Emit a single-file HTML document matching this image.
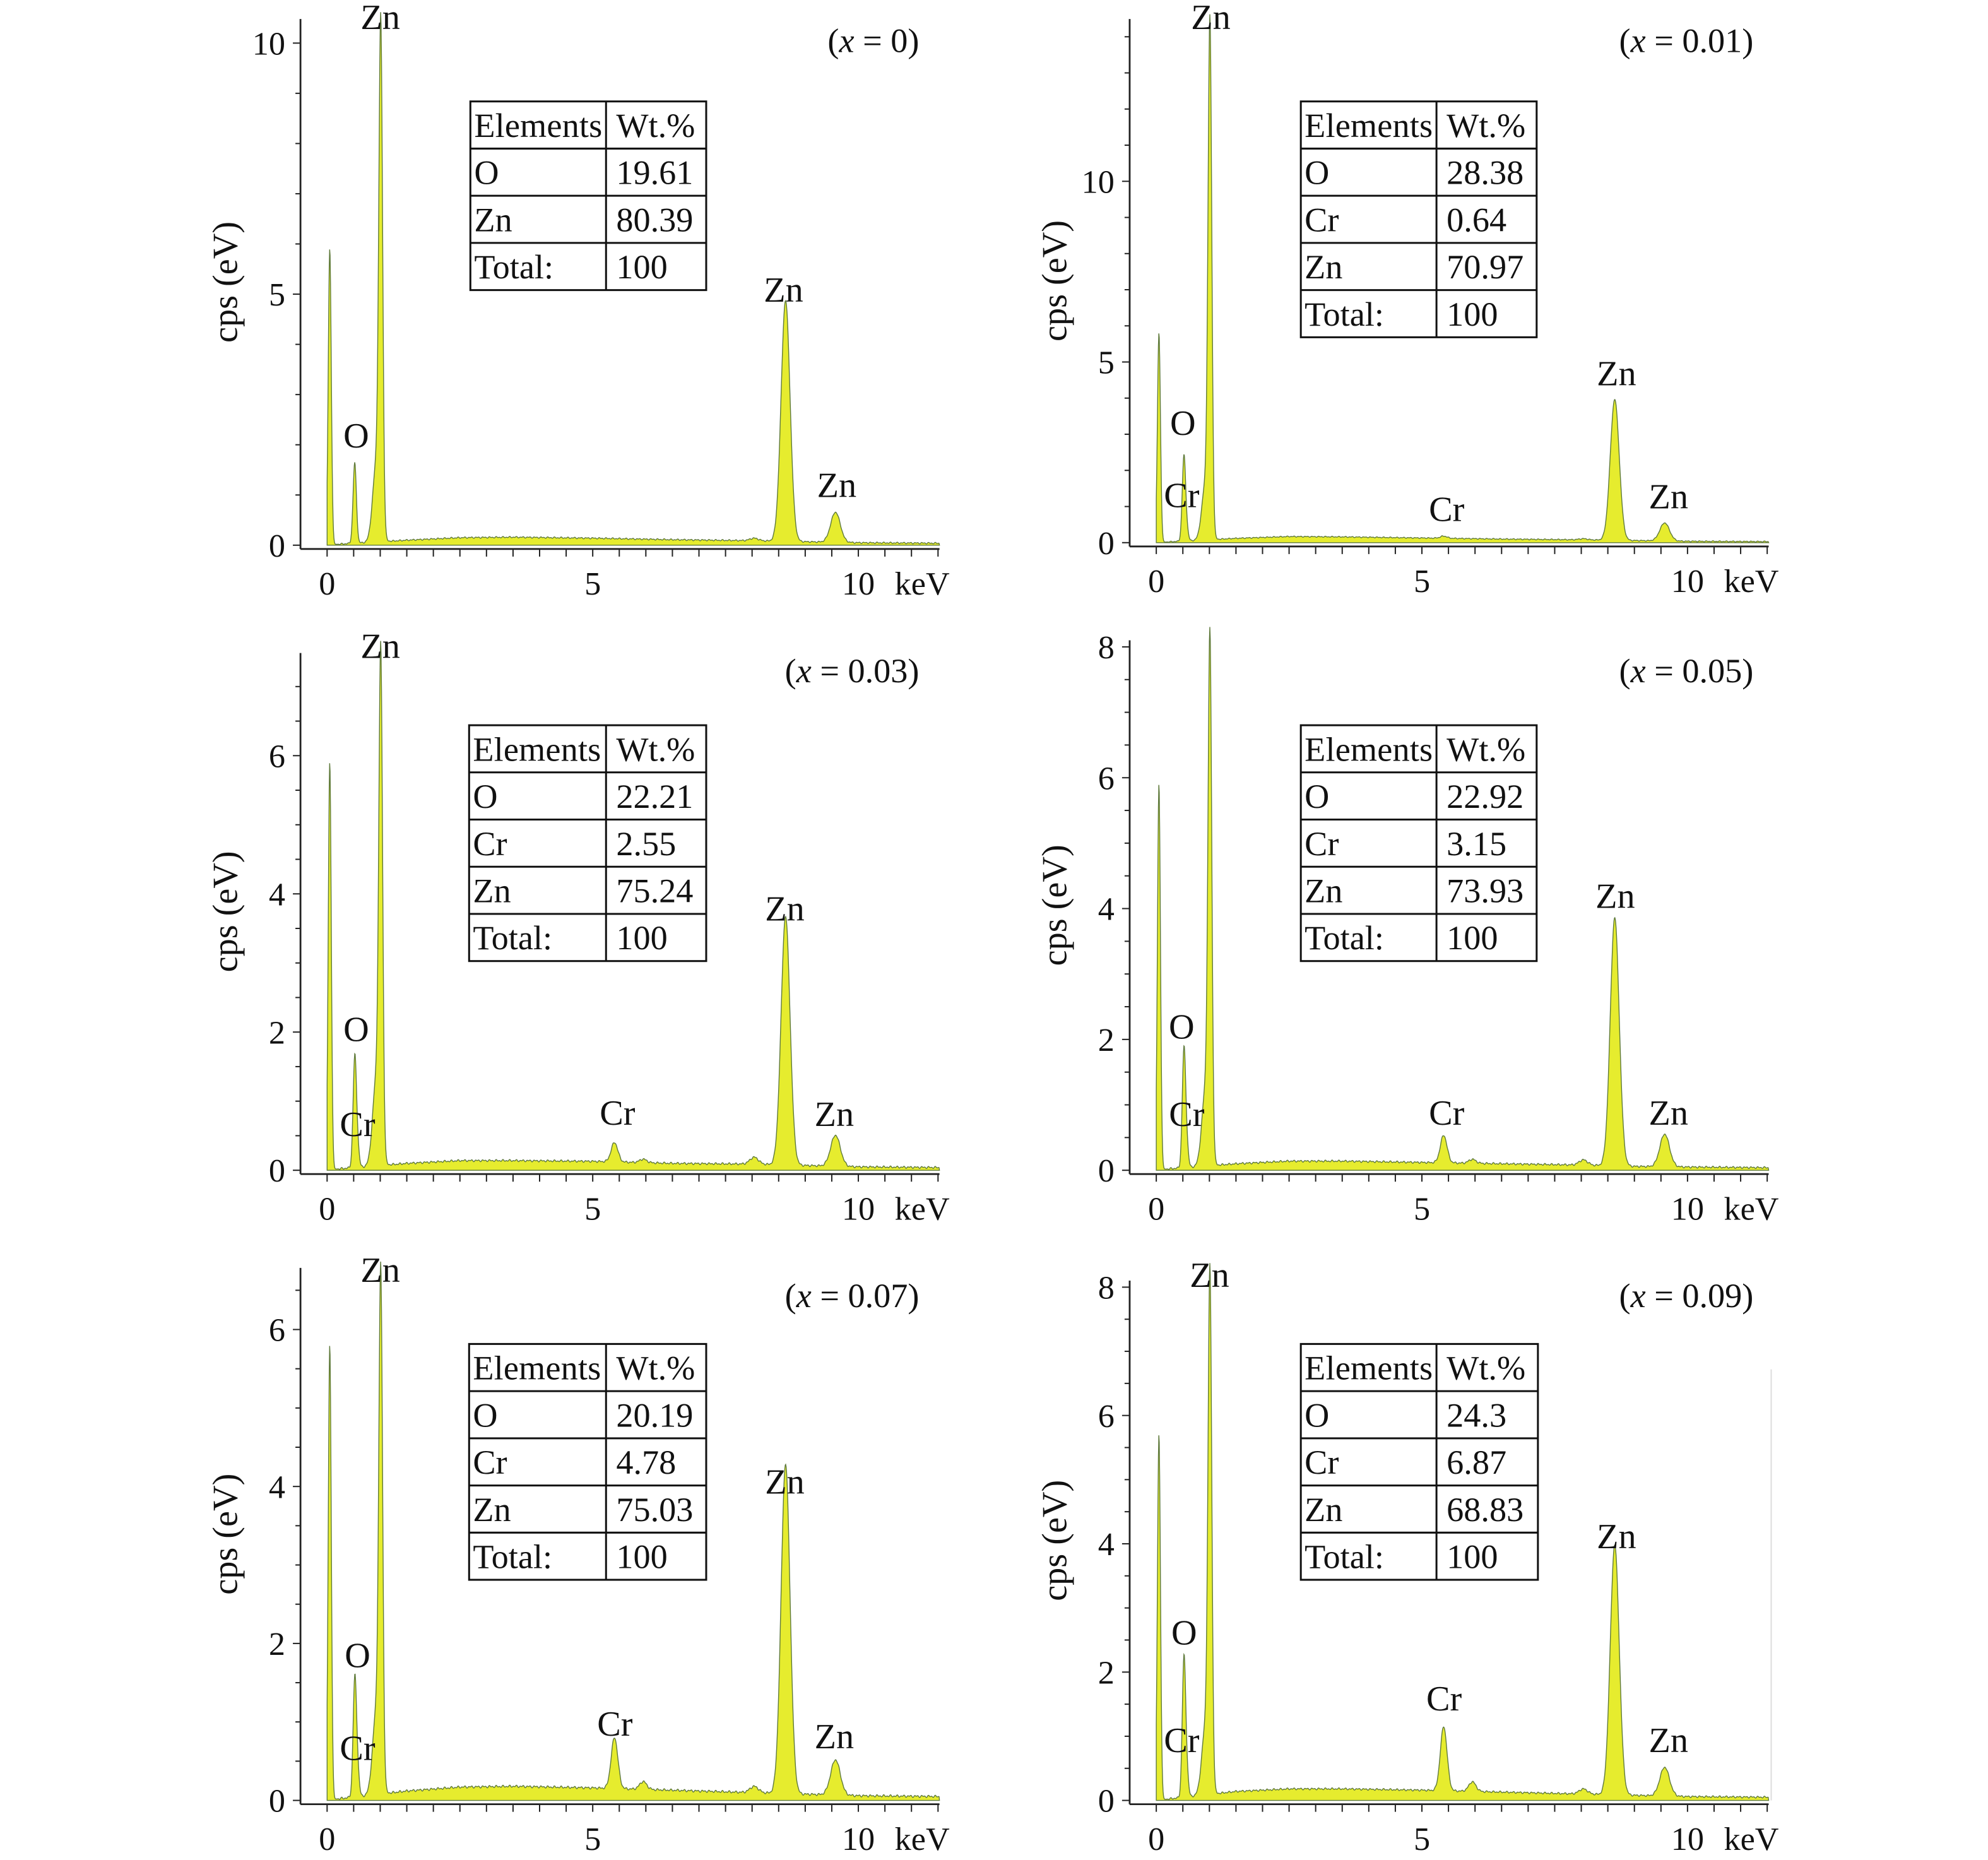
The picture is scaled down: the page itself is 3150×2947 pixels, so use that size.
<!DOCTYPE html>
<html><head><meta charset="utf-8"><style>
html,body{margin:0;padding:0;background:#fff}
svg{display:block}
text{font-family:"Liberation Serif",serif;fill:#111}
</style></head><body>
<svg id="fig" width="3150" height="2947" viewBox="0 0 1568 1467" preserveAspectRatio="none" xmlns="http://www.w3.org/2000/svg"></svg>
<script>
// shared peak energies (keV)
const peakE = [0.05, 0.52, 0.57, 0.93, 1.01, 5.41, 5.95, 8.04, 8.63, 9.57];
// peak heights per sample (cps)
const hX0   = [5.9, 1.6, 0.0, 1.6, 9.7, 0.0, 0.0, 0.05, 4.8, 0.6];
const hX001 = [5.8, 2.3, 0.3, 1.6, 13.7, 0.06, 0.0, 0.03, 3.9, 0.5];
const hX003 = [5.9, 1.55, 0.3, 1.3, 6.9, 0.28, 0.05, 0.1, 3.6, 0.45];
const hX005 = [5.9, 1.75, 0.35, 1.2, 7.6, 0.42, 0.06, 0.08, 3.8, 0.5];
const hX007 = [5.8, 1.45, 0.35, 1.1, 6.2, 0.65, 0.1, 0.08, 4.2, 0.45];
const hX009 = [5.7, 2.1, 0.4, 1.1, 7.7, 1.0, 0.15, 0.08, 3.9, 0.45];
// background continuum
const bgE    = [0.2, 1.5, 2.5, 3.5, 5.0, 6.5, 8.0, 9.0, 10.0, 11.5];
const bgX0   = [0.02, 0.10, 0.15, 0.16, 0.14, 0.11, 0.09, 0.07, 0.05, 0.04];
const bgX001 = [0.02, 0.12, 0.17, 0.16, 0.13, 0.10, 0.08, 0.06, 0.04, 0.03];
const bgX003 = [0.02, 0.10, 0.14, 0.14, 0.13, 0.10, 0.09, 0.07, 0.05, 0.04];
const bgX005 = [0.02, 0.10, 0.14, 0.14, 0.12, 0.10, 0.08, 0.06, 0.05, 0.04];
const bgX007 = [0.02, 0.12, 0.17, 0.18, 0.16, 0.13, 0.10, 0.08, 0.06, 0.05];
const bgX009 = [0.02, 0.14, 0.18, 0.18, 0.16, 0.13, 0.10, 0.08, 0.06, 0.05];
// y tick labels
const yTicksA = [0, 5, 10];
const yTicksB = [0, 2, 4, 6];
const yTicksC = [0, 2, 4, 6, 8];
const xTicks = [0, 5, 10];
// tables
const tabX0   = [["O","19.61"],["Zn","80.39"],["Total:","100"]];
const tabX001 = [["O","28.38"],["Cr","0.64"],["Zn","70.97"],["Total:","100"]];
const tabX003 = [["O","22.21"],["Cr","2.55"],["Zn","75.24"],["Total:","100"]];
const tabX005 = [["O","22.92"],["Cr","3.15"],["Zn","73.93"],["Total:","100"]];
const tabX007 = [["O","20.19"],["Cr","4.78"],["Zn","75.03"],["Total:","100"]];
const tabX009 = [["O","24.3"],["Cr","6.87"],["Zn","68.83"],["Total:","100"]];
const sampleLabels = ["0","0.01","0.03","0.05","0.07","0.09"];

const NS = "http://www.w3.org/2000/svg";
const svg = document.getElementById('fig');
function mk(tag, attrs, parent){const e=document.createElementNS(NS,tag);for(const k in attrs)e.setAttribute(k,attrs[k]);(parent||svg).appendChild(e);return e;}

const panels = [
 {ax:237,x0:258,kpx:41.9,y0:430,u:39.6,top:15,minor:1,ticks:yTicksA,h:hX0,bg:bgX0,tab:tabX0,tx:371,ty:80,split:478,tr:557,lab:[725,32],
  pl:[["Zn",300,14],["O",281,344],["Zn",618,229],["Zn",660,383]]},
 {ax:891,x0:912,kpx:41.9,y0:428,u:28.5,top:15,minor:1,ticks:yTicksA,h:hX001,bg:bgX001,tab:tabX001,tx:1026,ty:80,split:1133,tr:1212,lab:[1383,32],
  pl:[["Zn",955,14],["O",933,334],["Cr",932,391],["Cr",1141,402],["Zn",1275,295],["Zn",1316,392]]},
 {ax:237,x0:258,kpx:41.9,y0:923,u:54.5,top:515,minor:0.5,ticks:yTicksB,h:hX003,bg:bgX003,tab:tabX003,tx:370,ty:572,split:478,tr:557,lab:[725,529],
  pl:[["Zn",300,510],["O",281,812],["Cr",282,887],["Cr",487,878],["Zn",619,717],["Zn",658,879]]},
 {ax:891,x0:912,kpx:41.9,y0:923,u:51.6,top:505,minor:0.5,ticks:yTicksC,h:hX005,bg:bgX005,tab:tabX005,tx:1026,ty:572,split:1133,tr:1212,lab:[1383,529],
  pl:[["O",932,810],["Cr",936,879],["Cr",1141,878],["Zn",1274,707],["Zn",1316,878]]},
 {ax:237,x0:258,kpx:41.9,y0:1420,u:61.9,top:1000,minor:0.5,ticks:yTicksB,h:hX007,bg:bgX007,tab:tabX007,tx:370,ty:1060,split:478,tr:557,lab:[725,1022],
  pl:[["Zn",300,1002],["O",282,1306],["Cr",282,1379],["Cr",485,1360],["Zn",619,1169],["Zn",658,1370]]},
 {ax:891,x0:912,kpx:41.9,y0:1420,u:50.6,top:1010,minor:0.5,ticks:yTicksC,h:hX009,bg:bgX009,tab:tabX009,tx:1026,ty:1060,split:1133,tr:1213,lab:[1383,1022],
  pl:[["Zn",954,1006],["O",934,1288],["Cr",932,1373],["Cr",1139,1340],["Zn",1275,1212],["Zn",1316,1373]]}
];

function interp(xs, ys, x){
  if(x<=xs[0]) return ys[0]*Math.max(0,x/xs[0]);
  for(let i=1;i<xs.length;i++){ if(x<=xs[i]){const t=(x-xs[i-1])/(xs[i]-xs[i-1]);return ys[i-1]+t*(ys[i]-ys[i-1]);} }
  return ys[ys.length-1];
}

panels.forEach((p, idx)=>{
  const g = mk('g',{});
  
  
  const X = e => p.x0 + e*p.kpx;
  const Y = v => p.y0 - v*p.u;
  const xEnd = 741 + (p.ax-237);
  const eMax = (xEnd - p.x0)/p.kpx;
  let d = `M${X(0).toFixed(2)},${p.y0}`;
  for(let e=0;e<=eMax;e+=0.008){
    let v = interp(bgE, p.bg, e);
    for(let k=0;k<peakE.length;k++){
      const s = (k===3?0.07:0.028+0.0065*peakE[k]);
      v += p.h[k]*Math.exp(-0.5*Math.pow((e-peakE[k])/s,2));
    }
    const jitter = ((Math.sin(e*97.3)+Math.sin(e*51.7))*0.008);
    v = Math.max(0, v + (e>0.2?jitter:0));
    d += `L${X(e).toFixed(2)},${Y(v).toFixed(2)}`;
  }
  d += `L${xEnd},${p.y0}Z`;
  const sp = mk('path',{d:d,fill:'#e6ec2e',stroke:'#5f7a3c','stroke-width':0.7},g);
  
  
  const ya = mk('line',{x1:p.ax,y1:p.top,x2:p.ax,y2:p.y0+3,stroke:'#222','stroke-width':1.4},g);
  
  
  const xa = mk('line',{x1:p.ax,y1:p.y0+3,x2:xEnd,y2:p.y0+3,stroke:'#222','stroke-width':1.4},g);
  
  
  const yLim = (p.y0-p.top)/p.u;
  for(let v=0; v<=yLim+1e-6; v+=p.minor){
    const major = p.ticks.some(t=>Math.abs(t-v)<1e-6);
    mk('line',{x1:p.ax-(major?6:4),y1:Y(v),x2:p.ax,y2:Y(v),stroke:'#222','stroke-width':1},g);
  }
  p.ticks.forEach(t=>{
    const tl = mk('text',{x:p.ax-12,y:Y(t)+9,'text-anchor':'end','font-size':26},g);
    tl.textContent = t;
    
    
  });
  for(let e=0;e<=eMax;e+=0.5){
    mk('line',{x1:X(e),y1:p.y0+3,x2:X(e),y2:p.y0+9,stroke:'#222','stroke-width':1},g);
  }
  xTicks.forEach(t=>{
    const tl = mk('text',{x:X(t),y:p.y0+39,'text-anchor':'middle','font-size':26},g);
    tl.textContent = t;
    
    
  });
  const ku = mk('text',{x:xEnd+8,y:p.y0+39,'text-anchor':'end','font-size':26},g);
  ku.textContent='keV';
  
  
  const yl = mk('text',{x:0,y:0,'text-anchor':'middle','font-size':28,transform:`translate(${p.ax-50},${(p.top+p.y0)/2}) rotate(-90)`},g);
  yl.textContent='cps (eV)';
  
  
  const sl = mk('text',{x:p.lab[0],y:p.lab[1]+9,'text-anchor':'end','font-size':27},g);
  sl.innerHTML = '(<tspan font-style="italic">x</tspan> = '+sampleLabels[idx]+')';
  
  
  p.pl.forEach(l=>{
    const t = mk('text',{x:l[1],y:l[2]+9,'text-anchor':'middle','font-size':28},g);
    t.textContent=l[0];
    
    
  });
  const rows = [["Elements","Wt.%"]].concat(p.tab);
  const rh = 37.2;
  const tg = mk('g',{},g);
  
  
  mk('rect',{x:p.tx,y:p.ty,width:p.tr-p.tx,height:rh*rows.length,fill:'#fff',stroke:'#111','stroke-width':1.5},tg);
  mk('line',{x1:p.split,y1:p.ty,x2:p.split,y2:p.ty+rh*rows.length,stroke:'#111','stroke-width':1.5},tg);
  rows.forEach((r,i)=>{
    if(i>0) mk('line',{x1:p.tx,y1:p.ty+rh*i,x2:p.tr,y2:p.ty+rh*i,stroke:'#111','stroke-width':1.5},tg);
    const a = mk('text',{x:p.tx+3,y:p.ty+rh*i+28,'font-size':27},tg);
    if(r[0]==="Elements") a.setAttribute('textLength',101);
    a.textContent=r[0];
    
    
    const b = mk('text',{x:p.split+8,y:p.ty+rh*i+28,'font-size':27},tg);
    b.textContent=r[1];
    
    
  });
});
const fl = mk('line',{x1:1397,y1:1080,x2:1397,y2:1420,stroke:'#ddd','stroke-width':1});


</script>
</body></html>
